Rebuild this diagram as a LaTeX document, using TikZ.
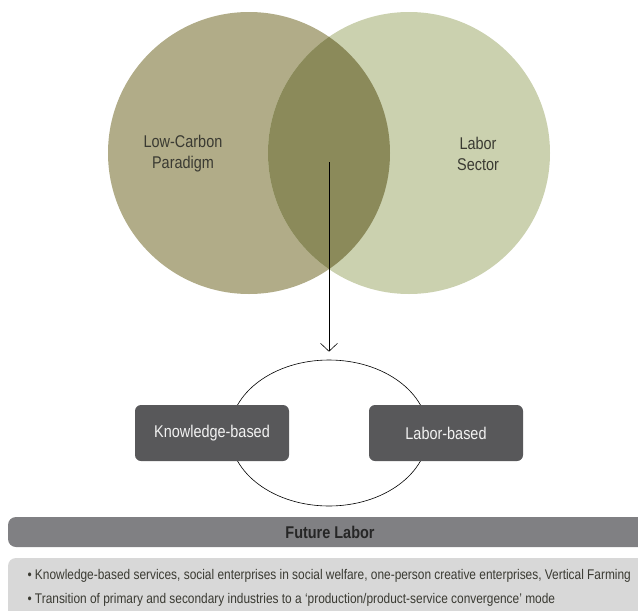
\documentclass[tikz,border=0pt]{standalone}
\usepackage{fontspec}
\setmainfont{Liberation Sans}[FakeStretch=0.85]
\usetikzlibrary{shapes.geometric,arrows.meta}
\definecolor{carbon}{HTML}{B1AC88}
\definecolor{labor}{HTML}{CBD1AF}
\definecolor{overlap}{HTML}{8B8A5A}
\definecolor{boxgray}{HTML}{58585A}
\definecolor{bargray}{HTML}{808083}
\definecolor{panelgray}{HTML}{D8D8D8}
\definecolor{inkgray}{HTML}{3A3A32}
\tikzset{
	setcircle/.style={circle,minimum size=282pt,inner sep=0pt},
	setlabel/.style={align=center,text=inkgray,font=\fontsize{17}{21}\selectfont},
	kindbox/.style={rectangle,rounded corners=6pt,fill=boxgray,text=white!90!gray,minimum width=154pt,minimum height=56pt,font=\fontsize{17}{20}\selectfont},
	bullet/.style={anchor=west,text=inkgray,font=\fontsize{14}{16}\selectfont}
}
\begin{document}
\begin{tikzpicture}[x=1pt,y=-1pt]
	\useasboundingbox (0,0) rectangle (638,611);
	\clip (0,0) rectangle (638,611);
	\node[setcircle,fill=carbon] (lcp) at (249,153) {};
	\node[setcircle,fill=labor] (ls) at (409,153) {};
	\begin{scope}
		\clip (249,153) circle (141);
		\fill[overlap] (409,153) circle (141);
	\end{scope}
	\node[setlabel] (lcptext) at (183,154) {Low-Carbon\\Paradigm};
	\node[setlabel] (lstext) at (478,154) {Labor\\Sector};
	\coordinate (lens) at (329,162);
	\node[ellipse,draw,semithick,minimum width=198pt,minimum height=146pt,inner sep=0pt] (mode) at (329,433) {};
	\draw[semithick,-{Straight Barb[length=8pt,width=17pt]},shorten >=8pt] (lens) -- (mode.north);
	\node[kindbox] (kb) at (212,433) {Knowledge-based};
	\node[kindbox] (lb) at (446,433) {Labor-based};
	\fill[bargray,rounded corners=8pt] (8,517) rectangle (660,547);
	\node[font=\bfseries\fontsize{17}{20}\selectfont,text=black!85] (fl) at (330,532) {Future Labor};
	\fill[panelgray,rounded corners=8pt] (8,558) rectangle (660,640);
	\node[bullet] (b1) at (24,576) {• Knowledge-based services, social enterprises in social welfare, one-person creative enterprises, Vertical Farming};
	\node[bullet] (b2) at (24,600) {• Transition of primary and secondary industries to a `production/product-service convergence' mode};
\end{tikzpicture}
\end{document}
